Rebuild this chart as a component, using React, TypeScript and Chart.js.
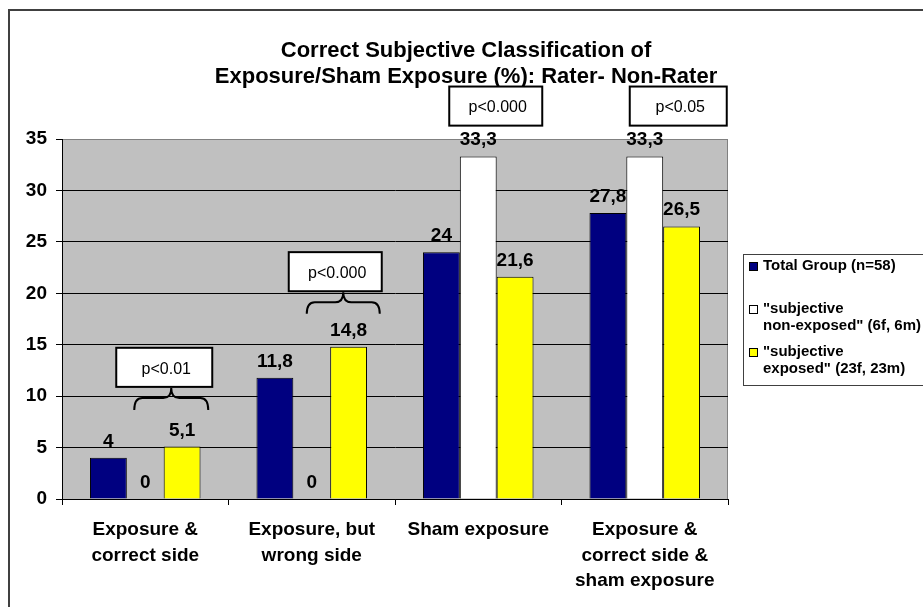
import React, { useEffect, useRef } from 'react';
import { Chart, registerables } from 'chart.js';

Chart.register(...registerables);

const FONT = '"Liberation Sans", Arial, Helvetica, sans-serif';

const titleLines = ['Correct Subjective Classification of', 'Exposure/Sham Exposure (%): Rater- Non-Rater'];

const categories = [
  ['Exposure &', 'correct side'],
  ['Exposure, but', 'wrong side'],
  ['Sham exposure'],
  ['Exposure &', 'correct side &', 'sham exposure'],
];

const totalGroup = [4, 11.8, 24, 27.8];
const nonExposed = [0, 0, 33.3, 33.3];
const exposed = [5.1, 14.8, 21.6, 26.5];

const seriesNames = ['Total Group (n=58)', '"subjective non-exposed" (6f, 6m)', '"subjective exposed" (23f, 23m)'];
const legendLines = [
  ['Total Group (n=58)'],
  ['"subjective', 'non-exposed" (6f, 6m)'],
  ['"subjective', 'exposed" (23f, 23m)'],
];
const seriesColors = ['#000080', '#FFFFFF', '#FFFF00'];

const yMin = 0;
const yMax = 35;
const yStep = 5;

// significance annotations (text + category they belong to)
const pLabels = ['p<0.01', 'p<0.000', 'p<0.000', 'p<0.05'];
const pCategory = [0, 1, 2, 3];
const pHasBrace = [true, true, false, false];

// annotation geometry: x offsets in px from category centre, y in axis units
const boxGeom = [
  { x0: -29, x1: 67, yTop: 14.7, yBot: 10.9 },
  { x0: -23, x1: 70, yTop: 24.0, yBot: 20.2 },
  { x0: -29, x1: 64, yTop: 40.1, yBot: 36.3 },
  { x0: -15, x1: 82, yTop: 40.1, yBot: 36.3 },
];
const braceGeom = [
  { x0: -11, x1: 63, tip: 10.8, end: 8.65 },
  { x0: -5, x1: 68, tip: 20.1, end: 18.0 },
  null,
  null,
];

const fmt = (v: number) => String(v).replace('.', ',');

const decorPlugin = {
  id: 'decor',
  beforeDraw(chart: any) {
    const { ctx, chartArea } = chart;
    const { left, top, right, bottom } = chartArea;
    ctx.save();
    ctx.fillStyle = '#FFFFFF';
    ctx.fillRect(0, 0, chart.width, chart.height);
    // outer frame
    ctx.strokeStyle = '#404040';
    ctx.lineWidth = 2;
    ctx.beginPath();
    ctx.moveTo(9, chart.height + 5);
    ctx.lineTo(9, 10);
    ctx.lineTo(chart.width + 5, 10);
    ctx.stroke();
    // plot background
    ctx.fillStyle = '#C0C0C0';
    ctx.fillRect(left, top, right - left, bottom - top);
    ctx.strokeStyle = '#808080';
    ctx.lineWidth = 1;
    ctx.strokeRect(left + 0.5, top + 0.5, right - left - 1, bottom - top);
    ctx.restore();
  },
  afterDraw(chart: any) {
    const { ctx } = chart;
    const xs = chart.scales.x;
    const ys = chart.scales.y;
    ctx.save();

    // title
    ctx.fillStyle = '#000';
    ctx.font = `bold 22px ${FONT}`;
    ctx.textAlign = 'center';
    ctx.textBaseline = 'alphabetic';
    ctx.fillText(titleLines[0], 466, 57);
    ctx.fillText(titleLines[1], 466, 83);

    // data labels
    ctx.font = `bold 19px ${FONT}`;
    chart.data.datasets.forEach((ds: any, i: number) => {
      const meta = chart.getDatasetMeta(i);
      meta.data.forEach((el: any, j: number) => {
        ctx.fillText(fmt(ds.data[j]), el.x, el.y - 11);
      });
    });

    // significance boxes and braces
    pLabels.forEach((txt, k) => {
      const cx = xs.getPixelForValue(pCategory[k]);
      const b = boxGeom[k];
      const x0 = cx + b.x0;
      const x1 = cx + b.x1;
      const yT = ys.getPixelForValue(b.yTop);
      const yB = ys.getPixelForValue(b.yBot);
      ctx.fillStyle = '#FFFFFF';
      ctx.fillRect(x0, yT, x1 - x0, yB - yT);
      ctx.strokeStyle = '#000';
      ctx.lineWidth = 2;
      ctx.strokeRect(x0, yT, x1 - x0, yB - yT);
      ctx.fillStyle = '#000';
      ctx.font = `16px ${FONT}`;
      ctx.textAlign = 'center';
      ctx.textBaseline = 'middle';
      ctx.fillText(txt, (x0 + x1) / 2 + 2, (yT + yB) / 2 + 2);
      const br = braceGeom[k];
      if (pHasBrace[k] && br) {
        const bx0 = cx + br.x0;
        const bx1 = cx + br.x1;
        const xc = (bx0 + bx1) / 2;
        const yTip = ys.getPixelForValue(br.tip);
        const yEnd = ys.getPixelForValue(br.end);
        const yMid = yTip + 10;
        const r = 8;
        ctx.beginPath();
        ctx.moveTo(bx0, yEnd);
        ctx.quadraticCurveTo(bx0, yMid, bx0 + r, yMid);
        ctx.lineTo(xc - r, yMid);
        ctx.quadraticCurveTo(xc, yMid, xc, yTip);
        ctx.quadraticCurveTo(xc, yMid, xc + r, yMid);
        ctx.lineTo(bx1 - r, yMid);
        ctx.quadraticCurveTo(bx1, yMid, bx1, yEnd);
        ctx.lineWidth = 2;
        ctx.stroke();
      }
    });

    // legend
    const lx = 743;
    const ly = 254;
    ctx.strokeStyle = '#404040';
    ctx.lineWidth = 1;
    ctx.strokeRect(lx + 0.5, ly + 0.5, 300, 131);
    const itemCentres = [266, 309, 352];
    ctx.font = `bold 15px ${FONT}`;
    ctx.textAlign = 'left';
    ctx.textBaseline = 'middle';
    legendLines.forEach((lines, i) => {
      const yc = itemCentres[i];
      ctx.fillStyle = seriesColors[i];
      ctx.fillRect(749, yc - 4, 8, 8);
      ctx.strokeStyle = '#000';
      ctx.strokeRect(749.5, yc - 3.5, 8, 8);
      ctx.fillStyle = '#000';
      lines.forEach((ln, li) => {
        ctx.fillText(ln, 763, yc + li * 17);
      });
    });

    ctx.restore();
  },
};

export default function App() {
  const ref = useRef<HTMLCanvasElement | null>(null);

  useEffect(() => {
    if (!ref.current) return;
    const data = [totalGroup, nonExposed, exposed];
    const chart = new Chart(ref.current, {
      type: 'bar',
      data: {
        labels: categories,
        datasets: data.map((d, i) => ({
          label: seriesNames[i],
          data: d,
          backgroundColor: seriesColors[i],
          borderColor: '#000000',
          borderWidth: 1,
          categoryPercentage: 0.664,
          barPercentage: 1,
        })),
      },
      options: {
        responsive: false,
        animation: false,
        devicePixelRatio: 1,
        layout: { padding: { left: 10, top: 139, right: 195, bottom: 0 } },
        plugins: {
          legend: { display: false },
          title: { display: false },
          tooltip: { enabled: false },
        },
        scales: {
          x: {
            afterFit: (s: any) => { s.height = 108; },
            grid: {
              display: true,
              drawOnChartArea: false,
              drawTicks: true,
              tickLength: 6,
              tickColor: '#000',
              offset: true,
            },
            border: { display: true, color: '#000', width: 1 },
            ticks: {
              color: '#000',
              font: { family: FONT, size: 19, weight: 'bold', lineHeight: 1.35 },
              padding: 12,
              maxRotation: 0,
              autoSkip: false,
            },
          },
          y: {
            min: yMin,
            max: yMax,
            afterFit: (s: any) => { s.width = 52; },
            grid: {
              color: (c: any) => (c.tick && c.tick.value === yMax ? 'rgba(0,0,0,0)' : '#000'),
              tickColor: '#000',
              tickLength: 6,
              lineWidth: 1,
            },
            border: { display: true, color: '#000', width: 1 },
            ticks: {
              stepSize: yStep,
              color: '#000',
              font: { family: FONT, size: 19, weight: 'bold' },
              padding: 9,
            },
          },
        },
      },
      plugins: [decorPlugin],
    });
    return () => chart.destroy();
  }, []);

  return (
    <div style={{ position: 'fixed', left: 0, top: 0, width: 923, height: 607, overflow: 'hidden', background: '#fff' }}>
      <canvas ref={ref} width={923} height={607} style={{ width: 923, height: 607, display: 'block' }} />
    </div>
  );
}
